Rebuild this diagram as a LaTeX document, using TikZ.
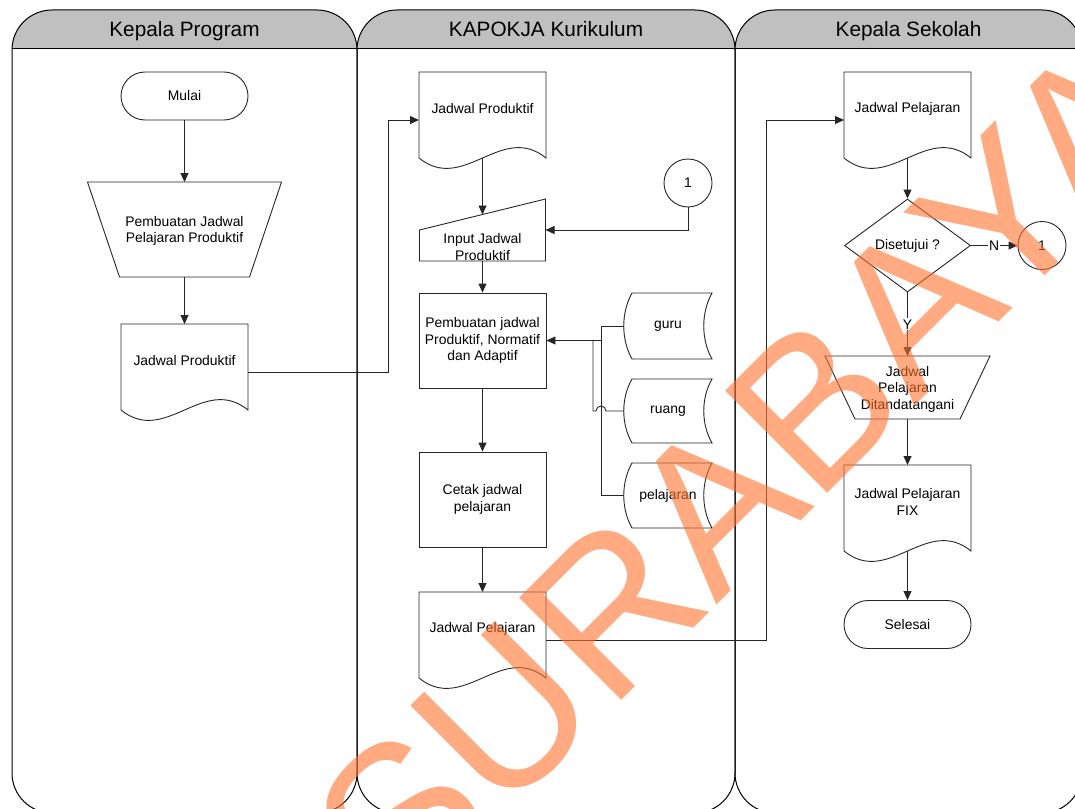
\documentclass[tikz,border=0pt]{standalone}
\usepackage{fontspec}
\setmainfont{Liberation Sans}
\usetikzlibrary{shapes.misc,shapes.geometric,arrows.meta}

\definecolor{headfill}{RGB}{192,192,192}
\definecolor{wmorange}{RGB}{255,113,43}

\tikzset{
  every node/.style={font=\fontsize{13.9}{16.5}\selectfont, text=black},
  shapeline/.style={draw=black!85, line width=0.9pt},
  laneline/.style={draw=black, line width=1pt},
  conn/.style={draw=black!85, line width=0.9pt},
  arr/.style={conn, -{Triangle[length=9pt,width=8pt]}},
  proc/.style={shapeline, rectangle, minimum width=127pt, minimum height=95pt, inner sep=0pt, align=center},
  term/.style={shapeline, rounded rectangle, minimum width=127pt, minimum height=48pt, inner sep=0pt},
  conncircle/.style={shapeline, circle, minimum size=48pt, inner sep=0pt},
  decision/.style={shapeline, diamond, minimum width=126pt, minimum height=93pt, inner sep=0pt},
  txt/.style={align=center, inner sep=0pt},
  lanehead/.style={font=\fontsize{20.8}{24}\selectfont, anchor=base, inner sep=0pt},
  branch/.style={fill=white, inner sep=1pt},
  watermark/.style={font=\fontsize{210}{220}\selectfont, text=wmorange, text opacity=0.6, inner sep=0pt}
}

% swim lane: left x, right x, title
\newcommand\swimlane[3]{%
  \begin{scope}
    \clip (#1,0) rectangle (#2,49);
    \fill[headfill, rounded corners=40pt] (#1,10) rectangle (#2,813);
  \end{scope}
  \draw[laneline, rounded corners=40pt] (#1,10) rectangle (#2,813);
  \draw[laneline] (#1,49) -- (#2,49);
  \node[lanehead] at ({(#1+#2)/2},37) {#3};
}

% document: name, centre x, top y, text
\newcommand\docshape[4]{%
  \draw[shapeline] (#2-63.5,#3) -- (#2+63.5,#3) -- (#2+63.5,#3+86)
    .. controls (#2+63.5-44.5,#3+86-36) and (#2+63.5-82.5,#3+86+36) .. (#2-63.5,#3+86) -- cycle;
  \node[txt] (#1) at (#2,#3+37) {#4};
  \coordinate (#1-n) at (#2,#3);
  \coordinate (#1-s) at (#2,#3+86);
  \coordinate (#1-e) at (#2+63.5,#3+48);
  \coordinate (#1-w) at (#2-63.5,#3+48);
}

% manual operation: name, centre x, top y, bottom y, top half width, bottom half width, text
\newcommand\manop[7]{%
  \draw[shapeline] (#2-#5,#3) -- (#2+#5,#3) -- (#2+#6,#4) -- (#2-#6,#4) -- cycle;
  \node[txt] (#1) at (#2,{(#3+#4)/2+1.5}) {#7};
  \coordinate (#1-n) at (#2,#3);
  \coordinate (#1-s) at (#2,#4);
}

% stored data: name, top y, bottom y, text
\newcommand\storedata[4]{%
  \draw[shapeline] (632,#2) -- (712,#2)
    .. controls (701,{#2+0.3*(#3-#2)}) and (701,{#3-0.3*(#3-#2)}) .. (712,#3)
    -- (632,#3)
    .. controls (621,{#3-0.3*(#3-#2)}) and (621,{#2+0.3*(#3-#2)}) .. cycle;
  \node[txt] (#1) at (668,{(#2+#3)/2}) {#4};
  \coordinate (#1-w) at (624,{(#2+#3)/2});
}

\begin{document}
\begin{tikzpicture}[x=1pt,y=-1pt]
\useasboundingbox (0,0) rectangle (1075,808);

% lanes
\swimlane{12}{357}{Kepala Program}
\swimlane{357}{735}{KAPOKJA Kurikulum}
\swimlane{735}{1082}{Kepala Sekolah}

% Kepala Program
\node[term] (mulai) at (184.5,96) {Mulai};
\manop{mo1}{184.5}{182}{277}{97}{65}{Pembuatan Jadwal\\Pelajaran Produktif}
\docshape{d1}{184.5}{324}{Jadwal Produktif}
\draw[arr] (mulai) -- (mo1-n);
\draw[arr] (mo1-s) -- (d1-n);

% KAPOKJA Kurikulum
\docshape{d2}{482.5}{72}{Jadwal Produktif}
\draw[shapeline] (419.5,230) -- (545.5,199) -- (545.5,261) -- (419.5,261) -- cycle;
\node[txt] (i1) at (482.5,247) {Input Jadwal\\Produktif};
\coordinate (i1-n) at (482.5,214.5);
\coordinate (i1-s) at (482.5,261);
\coordinate (i1-e) at (545.5,230);
\node[conncircle] (c1) at (688,183) {1};
\node[proc] (p1) at (482.5,340.5) {Pembuatan jadwal\\Produktif, Normatif\\dan Adaptif};
\node[proc] (p2) at (482.5,499.5) {Cetak jadwal\\pelajaran};
\docshape{d3}{482.5}{592}{Jadwal Pelajaran}
\storedata{guru}{293}{359}{guru}
\storedata{ruang}{379}{443}{ruang}
\storedata{pel}{463}{528}{pelajaran}

\draw[arr] (d1-e) -- ++(140,0) |- (d2-w);
\draw[arr] (d2-s) -- (i1-n);
\draw[arr] (c1.south) |- (i1-e);
\draw[arr] (i1-s) -- (p1.north);
\draw[conn] (guru-w) -- ++(-23,0) |- (pel-w);
\coordinate (jn) at (601,340.5);
\draw[arr] (jn) -- (p1.east);
\draw[conn] (ruang-w) -- (606,411) arc[start angle=0, end angle=-180, radius=5] -- (593,411) -- (593,340.5);
\draw[arr] (p1.south) -- (p2.north);
\draw[arr] (p2.south) -- (d3-n);

% Kepala Sekolah
\docshape{d4}{907.5}{72}{Jadwal Pelajaran}
\node[decision] (dm) at (907.5,245.5) {Disetujui ?};
\node[conncircle] (c2) at (1042,245.5) {1};
\manop{mo2}{907.5}{356}{419}{82.5}{52.5}{Jadwal\\Pelajaran\\Ditandatangani}
\docshape{d5}{907.5}{465}{Jadwal Pelajaran\\FIX}
\node[term] (selesai) at (907.5,624.5) {Selesai};

\draw[arr] (d3-e) -- ++(220,0) |- (d4-w);
\draw[arr] (d4-s) -- (dm.north);
\draw[arr] (dm.east) -- node[branch] {N} (c2.west);
\draw[arr] (dm.south) -- node[branch] {Y} (mo2-n);
\draw[arr] (mo2-s) -- (d5-n);
\draw[arr] (d5-s) -- (selesai.north);

% watermark
\node[watermark, rotate=45] (wm) at (745,474) {SURABAYA};
\end{tikzpicture}
\end{document}
